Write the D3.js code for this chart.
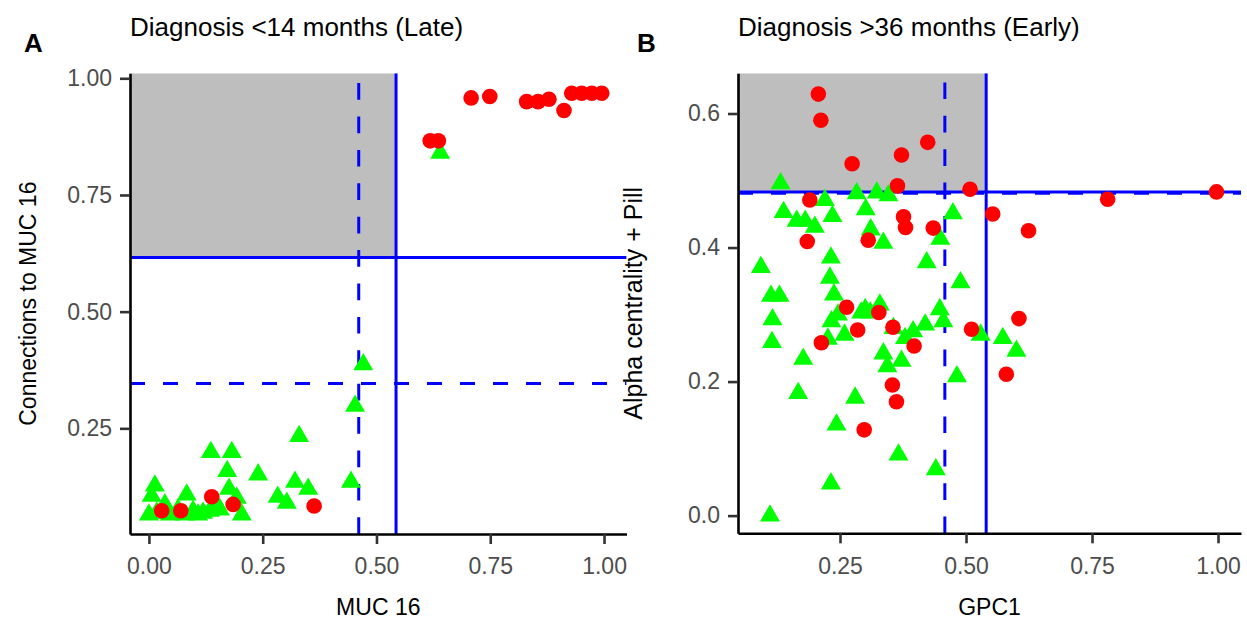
<!DOCTYPE html>
<html>
<head>
<meta charset="utf-8">
<script src="https://cdn.jsdelivr.net/npm/d3@7"></script>
<style>
  body { margin: 0; background: #fff; }
  svg text { font-family: "Liberation Sans", Arial, sans-serif; }
</style>
</head>
<body>
<svg id="chart"></svg>
<script>
// Panel A: MUC 16 vs connections to MUC 16
const aTriX = [0.471, 0.453, 0.330, 0.444, 0.136, 0.182, 0.172, 0.240, 0.321, 0.350, 0.283, 0.303, 0.176, 0.193, 0.204,
  0.013, 0.006, 0.083, 0.035, 0.149, 0.156, 0.000, 0.017, 0.046, 0.064, 0.097, 0.119, 0.134, 0.079, 0.108, 0.640];
const aTriY = [0.393, 0.304, 0.239, 0.141, 0.205, 0.205, 0.164, 0.157, 0.141, 0.126, 0.109, 0.096, 0.126, 0.107, 0.071,
  0.133, 0.111, 0.114, 0.093, 0.093, 0.082, 0.071, 0.075, 0.071, 0.082, 0.079, 0.075, 0.079, 0.071, 0.071, 0.846];
const aDotX = [0.028, 0.070, 0.138, 0.185, 0.363, 0.618, 0.636, 0.708, 0.749, 0.830, 0.855, 0.879, 0.912, 0.929, 0.951, 0.973, 0.995];
const aDotY = [0.0735, 0.0735, 0.1035, 0.087, 0.0836, 0.866, 0.866, 0.958, 0.961, 0.950, 0.950, 0.955, 0.931, 0.968, 0.968, 0.968, 0.968];
const aXTicks = [0, 0.25, 0.5, 0.75, 1];
const aYTicks = [0.25, 0.5, 0.75, 1];
const aSolidCut = [0.543, 0.616];   // [x, y]
const aDashedCut = [0.461, 0.346];  // [x, y]

// Panel B: GPC1 vs alpha centrality + Pill
const bTriX = [0.132, 0.220, 0.283, 0.323, 0.346, 0.138, 0.164, 0.181, 0.200, 0.235, 0.301, 0.311, 0.336, 0.474, 0.449,
  0.422, 0.093, 0.232, 0.230, 0.489, 0.113, 0.130, 0.238, 0.116, 0.115, 0.177, 0.167, 0.280, 0.243, 0.366, 0.440,
  0.232, 0.111, 0.233, 0.246, 0.259, 0.226, 0.292, 0.300, 0.329, 0.356, 0.379, 0.395, 0.419, 0.448, 0.455, 0.336,
  0.344, 0.372, 0.482, 0.529, 0.573, 0.600, 0.310];
const bTriY = [0.500, 0.475, 0.485, 0.486, 0.482, 0.457, 0.444, 0.444, 0.435, 0.451, 0.461, 0.431, 0.411, 0.455, 0.417,
  0.382, 0.375, 0.389, 0.359, 0.352, 0.332, 0.332, 0.334, 0.297, 0.263, 0.238, 0.187, 0.180, 0.140, 0.095, 0.073,
  0.052, 0.004, 0.294, 0.304, 0.274, 0.268, 0.307, 0.312, 0.319, 0.284, 0.269, 0.279, 0.289, 0.312, 0.294, 0.246,
  0.227, 0.235, 0.212, 0.274, 0.269, 0.250, 0.307];
const bDotX = [0.207, 0.212, 0.274, 0.372, 0.424, 0.364, 0.508, 0.190, 0.376, 0.380, 0.435, 0.185, 0.306, 0.553, 0.624,
  0.781, 0.997, 0.263, 0.327, 0.285, 0.355, 0.213, 0.397, 0.511, 0.605, 0.580, 0.354, 0.362, 0.298];
const bDotY = [0.629, 0.590, 0.525, 0.538, 0.557, 0.492, 0.487, 0.471, 0.446, 0.430, 0.429, 0.409, 0.411, 0.450, 0.425,
  0.472, 0.483, 0.311, 0.303, 0.277, 0.281, 0.258, 0.253, 0.278, 0.294, 0.211, 0.195, 0.170, 0.128];
const bXTicks = [0.25, 0.5, 0.75, 1];
const bYTicks = [0, 0.2, 0.4, 0.6];
const bSolidCut = [0.540, 0.483];
const bDashedCut = [0.458, 0.481];

const width = 1247;
const height = 622;

const svg = d3.select("#chart")
  .attr("width", width)
  .attr("height", height);

svg.append("rect").attr("width", width).attr("height", height).attr("fill", "#fff");

// triangle centred on its bounding box, like ggplot shape 17
const triW = 20, triH = 17.3;
const triPath = `M0,${-triH / 2}L${triW / 2},${triH / 2}L${-triW / 2},${triH / 2}Z`;

function drawPanel(cfg) {
  const g = svg.append("g");

  // white background (covers anything spilling from the panel to the left)
  g.append("rect")
    .attr("x", cfg.bgLeft).attr("y", 0)
    .attr("width", width - cfg.bgLeft).attr("height", height)
    .attr("fill", "#fff");

  const x = d3.scaleLinear().domain(cfg.xDomain).range([cfg.left, cfg.right]);
  const y = d3.scaleLinear().domain(cfg.yDomain).range([cfg.bottom, cfg.top]);

  const clipId = "clip-" + cfg.tag;
  g.append("clipPath").attr("id", clipId)
    .append("rect")
    .attr("x", cfg.left).attr("y", cfg.top)
    .attr("width", cfg.right - cfg.left).attr("height", cfg.bottom - cfg.top);

  const plot = g.append("g").attr("clip-path", `url(#${clipId})`);

  // grey quadrant: left of the solid x cut, above the solid y cut
  plot.append("rect")
    .attr("x", cfg.left)
    .attr("y", cfg.top)
    .attr("width", x(cfg.solid[0]) - cfg.left)
    .attr("height", y(cfg.solid[1]) - cfg.top)
    .attr("fill", "#BEBEBE");

  // dashed cut lines
  plot.append("line")
    .attr("x1", cfg.left).attr("x2", cfg.right)
    .attr("y1", y(cfg.dashed[1])).attr("y2", y(cfg.dashed[1]))
    .attr("stroke", "#0000FF").attr("stroke-width", 3)
    .attr("stroke-dasharray", "15,18");
  plot.append("line")
    .attr("x1", x(cfg.dashed[0])).attr("x2", x(cfg.dashed[0]))
    .attr("y1", cfg.bottom).attr("y2", cfg.top)
    .attr("stroke", "#0000FF").attr("stroke-width", 3)
    .attr("stroke-dasharray", "16.7,16.7");

  // solid cut lines
  plot.append("line")
    .attr("x1", cfg.left).attr("x2", cfg.right)
    .attr("y1", y(cfg.solid[1])).attr("y2", y(cfg.solid[1]))
    .attr("stroke", "#0000FF").attr("stroke-width", 3);
  plot.append("line")
    .attr("x1", x(cfg.solid[0])).attr("x2", x(cfg.solid[0]))
    .attr("y1", cfg.bottom).attr("y2", cfg.top)
    .attr("stroke", "#0000FF").attr("stroke-width", 3);

  // points: triangles first, circles on top
  plot.selectAll(".tri")
    .data(d3.zip(cfg.triX, cfg.triY))
    .enter()
    .append("path")
    .attr("class", "tri")
    .attr("d", triPath)
    .attr("transform", d => `translate(${x(d[0])},${y(d[1])})`)
    .attr("fill", "#00FF00");

  plot.selectAll(".dot")
    .data(d3.zip(cfg.dotX, cfg.dotY))
    .enter()
    .append("circle")
    .attr("class", "dot")
    .attr("cx", d => x(d[0]))
    .attr("cy", d => y(d[1]))
    .attr("r", 7.8)
    .attr("fill", "#FF0000");

  // axes
  const xAxis = d3.axisBottom(x).tickValues(cfg.xTicks).tickFormat(d3.format(cfg.xFmt))
    .tickSizeInner(10).tickSizeOuter(0).tickPadding(14);
  const yAxis = d3.axisLeft(y).tickValues(cfg.yTicks).tickFormat(d3.format(cfg.yFmt))
    .tickSizeInner(10).tickSizeOuter(0).tickPadding(8);

  const gx = g.append("g").attr("transform", `translate(0,${cfg.bottom})`).call(xAxis);
  const gy = g.append("g").attr("transform", `translate(${cfg.left},0)`).call(yAxis);

  [gx, gy].forEach(ax => {
    ax.select(".domain").attr("stroke", "#000").attr("stroke-width", 2.6);
    ax.selectAll(".tick line").attr("stroke", "#333").attr("stroke-width", 2.6);
    ax.selectAll(".tick text")
      .attr("fill", "#4D4D4D")
      .style("font-size", "23px")
      .style("font-family", "'Liberation Sans', Arial, sans-serif");
  });

  // titles
  g.append("text")
    .attr("x", cfg.left).attr("y", 36)
    .style("font-size", "26px")
    .text(cfg.title);

  g.append("text")
    .attr("x", cfg.tagX).attr("y", 52)
    .style("font-size", "26px").style("font-weight", "bold")
    .text(cfg.tag);

  g.append("text")
    .attr("x", (cfg.left + cfg.right) / 2).attr("y", 615)
    .attr("text-anchor", "middle")
    .style("font-size", "23px")
    .text(cfg.xLabel);

  g.append("text")
    .attr("transform", `translate(${cfg.yLabelX},${(cfg.top + cfg.bottom) / 2}) rotate(-90)`)
    .attr("text-anchor", "middle")
    .style("font-size", cfg.yLabelSize)
    .text(cfg.yLabel);
}

drawPanel({
  tag: "A", tagX: 24, bgLeft: 0,
  title: "Diagnosis <14 months (Late)",
  xLabel: "MUC 16", yLabel: "Connections to MUC 16", yLabelX: 36, yLabelSize: "23px",
  left: 130, right: 626.6, top: 73.3, bottom: 534,
  xDomain: [-0.0416, 1.0496], yDomain: [0.0236, 1.0107],
  xTicks: aXTicks, yTicks: aYTicks, xFmt: ".2f", yFmt: ".2f",
  triX: aTriX, triY: aTriY, dotX: aDotX, dotY: aDotY,
  solid: aSolidCut, dashed: aDashedCut
});

drawPanel({
  tag: "B", tagX: 637, bgLeft: 627,
  title: "Diagnosis >36 months (Early)",
  xLabel: "GPC1", yLabel: "Alpha centrality + Pill", yLabelX: 642, yLabelSize: "25px",
  left: 738, right: 1241, top: 73.3, bottom: 533.3,
  xDomain: [0.0476, 1.0456], yDomain: [-0.0264, 0.66],
  xTicks: bXTicks, yTicks: bYTicks, xFmt: ".2f", yFmt: ".1f",
  triX: bTriX, triY: bTriY, dotX: bDotX, dotY: bDotY,
  solid: bSolidCut, dashed: bDashedCut
});
</script>
</body>
</html>
